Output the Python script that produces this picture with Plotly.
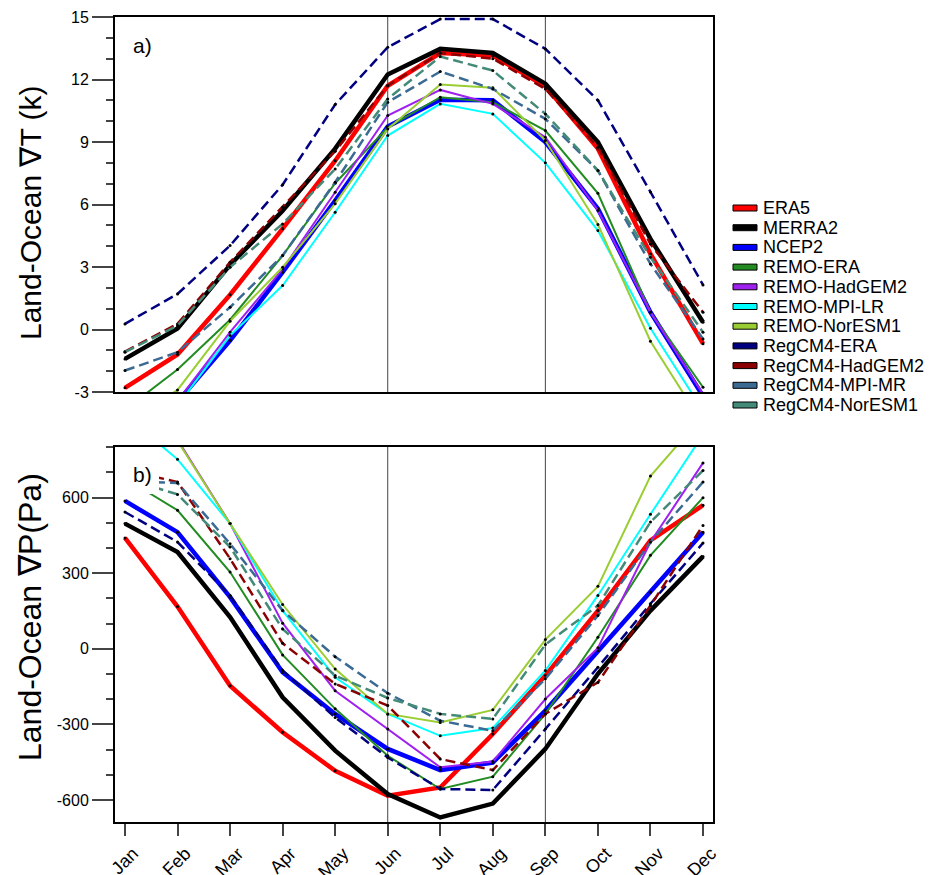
import plotly.graph_objects as go
from plotly.subplots import make_subplots

# Mois et séries
months = ["Jan", "Feb", "Mar", "Apr", "May", "Jun", "Jul", "Aug", "Sep", "Oct", "Nov", "Dec"]

names = ["ERA5", "MERRA2", "NCEP2", "REMO-ERA", "REMO-HadGEM2", "REMO-MPI-LR",
         "REMO-NorESM1", "RegCM4-ERA", "RegCM4-HadGEM2", "RegCM4-MPI-MR", "RegCM4-NorESM1"]

# Graduations des axes y
t_ticks = [-3, 0, 3, 6, 9, 12, 15]
t_labels = ["-3", "0", "3", "6", "9", "12", "15"]
p_ticks = [-600, -300, 0, 300, 600]
p_labels = ["-600", "-300", "0", "300", "600"]

# Gradient de température terre-océan (K)
dT_era5 = [-2.8, -1.2, 1.67, 4.84, 8.1, 11.7, 13.27, 13.15, 11.67, 8.68, 3.63, -0.68]
dT_merra2 = [-1.41, 0.05, 3.1, 5.7, 8.68, 12.24, 13.47, 13.27, 11.8, 9.0, 4.35, 0.35]
dT_ncep2 = [-5.5, -3.47, -0.53, 2.75, 6.19, 9.74, 11.03, 11.0, 9.0, 5.8, 0.83, -3.2]
dT_remo_era = [-3.85, -1.92, 0.47, 3.55, 7.02, 9.7, 11.15, 10.91, 9.55, 6.54, 0.83, -2.77]
dT_remo_had = [-5.0, -3.43, -0.13, 2.9, 6.59, 10.27, 11.5, 10.83, 9.23, 5.71, 0.83, -3.1]
dT_remo_mpi = [-5.5, -3.64, -0.29, 2.11, 5.63, 9.31, 10.83, 10.35, 8.0, 4.75, 0.06, -3.9]
dT_remo_nor = [-4.6, -2.9, 0.4, 2.99, 6.04, 9.63, 11.76, 11.6, 9.07, 5.04, -0.56, -4.56]
dT_reg_era = [0.27, 1.71, 4.03, 6.95, 10.8, 13.55, 14.9, 14.9, 13.47, 11.0, 6.6, 2.14]
dT_reg_had = [-1.06, 0.27, 3.23, 5.87, 8.56, 11.71, 13.27, 13.0, 11.55, 8.75, 4.1, 0.83]
dT_reg_mpi = [-1.97, -1.09, 1.07, 3.55, 7.07, 10.91, 12.38, 11.55, 10.11, 7.63, 3.15, -0.45]
dT_reg_nor = [-1.09, 0.19, 2.99, 5.07, 7.71, 11.07, 13.1, 12.43, 10.35, 7.63, 3.47, -0.13]

# Gradient de pression terre-océan (Pa)
dP_era5 = [440, 168, -146, -331, -484, -583, -550, -338, -106, 152, 430, 570]
dP_merra2 = [497, 384, 126, -192, -404, -576, -669, -614, -397, -99, 152, 367]
dP_ncep2 = [587, 463, 205, -93, -258, -397, -481, -451, -245, -7, 225, 463]
dP_remo_era = [677, 550, 305, -24, -238, -424, -556, -507, -258, 46, 371, 600]
dP_remo_had = [950, 830, 497, 102, -166, -318, -470, -447, -199, 4, 424, 738]
dP_remo_mpi = [927, 752, 497, 152, -113, -258, -345, -314, -86, 212, 534, 850]
dP_remo_nor = [1000, 825, 497, 176, -80, -258, -292, -242, 37, 248, 686, 925]
dP_reg_era = [543, 424, 212, -86, -272, -431, -556, -560, -318, -73, 179, 420]
dP_reg_had = [710, 662, 358, 22, -139, -225, -437, -481, -258, -133, 172, 490]
dP_reg_mpi = [666, 658, 417, 152, -31, -176, -285, -325, -119, 132, 424, 662]
dP_reg_nor = [677, 613, 404, 79, -106, -195, -258, -278, 17, 172, 503, 708]

dT = [dT_era5, dT_merra2, dT_ncep2, dT_remo_era, dT_remo_had, dT_remo_mpi,
      dT_remo_nor, dT_reg_era, dT_reg_had, dT_reg_mpi, dT_reg_nor]
dP = [dP_era5, dP_merra2, dP_ncep2, dP_remo_era, dP_remo_had, dP_remo_mpi,
      dP_remo_nor, dP_reg_era, dP_reg_had, dP_reg_mpi, dP_reg_nor]

# Styles
colors = ["#ff0000", "#000000", "#0000ff", "#228b22", "#a020f0", "#00ffff",
          "#9acd32", "#000080", "#8b0000", "#3b6a93", "#448a78"]
widths = [4.5, 4.5, 4.5, 2, 2, 2, 2, 2.5, 2.5, 2.5, 2.5]
dashes = ["solid"] * 7 + ["10px,5px"] * 4

FONT = "Liberation Sans, Arial, Helvetica, sans-serif"
# la page a une marge de 8px : on décale tout
OFF = 8
W, H = 935 - OFF, 875 - OFF
L, R, T, B = 115 - OFF, 222, 17 - OFF, 53
PW, PH = W - L - R, H - T - B


# conversions pixels (fenêtre) -> coordonnées papier
def px_x(px):
    return (px - OFF - L) / PW


def px_y(py):
    return (H - B - (py - OFF)) / PH


x = list(range(len(months)))

fig = make_subplots(rows=2, cols=1, vertical_spacing=0)

for i, n in enumerate(names):
    fig.add_trace(go.Scatter(x=x, y=dT[i], mode="lines+markers", name=n, showlegend=False,
                             line=dict(color=colors[i], width=widths[i], dash=dashes[i]),
                             marker=dict(color="black", size=3)), row=1, col=1)
    fig.add_trace(go.Scatter(x=x, y=dP[i], mode="lines+markers", name=n, showlegend=False,
                             line=dict(color=colors[i], width=widths[i], dash=dashes[i]),
                             marker=dict(color="black", size=3)), row=2, col=1)

axis_common = dict(showline=True, mirror=True, linecolor="black", linewidth=2,
                   showgrid=False, zeroline=False, automargin=False)

fig.update_layout(
    width=W, height=H, plot_bgcolor="white", paper_bgcolor="white",
    margin=dict(l=L, r=R, t=T, b=B),
    font=dict(family=FONT, color="black"),
    xaxis=dict(domain=[0, 1], range=[-0.19, 11.19], showticklabels=False, ticks="",
               **axis_common),
    yaxis=dict(domain=[px_y(392), 1], range=[-3, 15], tickvals=t_ticks, ticktext=t_labels,
               ticks="outside", ticklen=21, tickwidth=1.5, tickfont=dict(size=16),
               minor=dict(tickmode="linear", tick0=-3, dtick=1, ticks="outside",
                          ticklen=7, tickwidth=1.5),
               **axis_common),
    xaxis2=dict(domain=[0, 1], range=[-0.19, 11.19], tickvals=x, ticktext=months,
                tickangle=-45, ticks="outside", ticklen=12, tickwidth=1.5,
                ticklabelshift=8, tickfont=dict(size=18), **axis_common),
    yaxis2=dict(domain=[0, px_y(447)], range=[-687, 801], tickvals=p_ticks, ticktext=p_labels,
                ticks="outside", ticklen=21, tickwidth=1.5, tickfont=dict(size=16),
                minor=dict(tickmode="linear", tick0=0, dtick=100, ticks="outside",
                           ticklen=7, tickwidth=1.5),
                **axis_common),
)

# Lignes verticales Jun / Sep
for m in ["Jun", "Sep"]:
    for xr, yr in [("x", "y domain"), ("x2", "y2 domain")]:
        fig.add_shape(type="line", xref=xr, yref=yr, x0=months.index(m), x1=months.index(m),
                      y0=0, y1=1, line=dict(color="#444444", width=1), layer="below")

# Cache blanc derrière "b)"
fig.add_shape(type="rect", xref="x2 domain", yref="y2 domain",
              x0=2 / PW, x1=(159 - 115) / PW, y0=(822 - 494) / 375, y1=1 - 2 / 375,
              fillcolor="white", line=dict(width=0), layer="above")

fig.add_annotation(text="a)", xref="paper", yref="paper", x=px_x(131), y=px_y(45),
                   xanchor="left", yanchor="middle", showarrow=False, font=dict(size=21))
fig.add_annotation(text="b)", xref="paper", yref="paper", x=px_x(131), y=px_y(475),
                   xanchor="left", yanchor="middle", showarrow=False, font=dict(size=21))

# Titres des axes y
fig.add_annotation(text="Land-Ocean ∇T (k)", xref="paper", yref="paper", x=px_x(30), y=px_y(213),
                   xanchor="center", yanchor="middle",
                   textangle=-90, showarrow=False, font=dict(size=30))
fig.add_annotation(text="Land-Ocean ∇P(Pa)", xref="paper", yref="paper", x=px_x(30), y=px_y(617),
                   xanchor="center", yanchor="middle",
                   textangle=-90, showarrow=False, font=dict(size=32))

# Légende manuelle
for i, n in enumerate(names):
    cy = 208 + 19.7 * i
    fig.add_shape(type="rect", xref="paper", yref="paper",
                  x0=px_x(733), x1=px_x(757), y0=px_y(cy + 3), y1=px_y(cy - 3),
                  fillcolor=colors[i], line=dict(color="black", width=1))
    fig.add_annotation(text=n, xref="paper", yref="paper", x=px_x(761), y=px_y(cy),
                       xanchor="left", yanchor="middle", showarrow=False, font=dict(size=18))

fig.write_html("out.html")
